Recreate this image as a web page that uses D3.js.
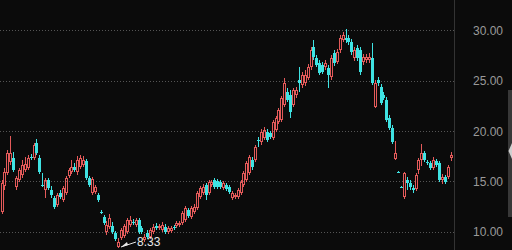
<!DOCTYPE html>
<html>
<head>
<meta charset="utf-8">
<script src="https://cdn.jsdelivr.net/npm/d3@7"></script>
<style>
  html, body { margin: 0; padding: 0; background: #0b0b0b; }
  svg { display: block; }
</style>
</head>
<body>
<div id="chart"></div>
<script>
// Daily candles (open / high / low / close)
var opens = [
  11.94, 14.52, 15.81, 16.91, 17.30, 14.42, 15.12, 15.61, 16.11, 16.31,
  17.40, 17.30, 18.80, 17.30, 14.62, 14.12, 15.12, 14.12, 13.33, 12.63,
  13.83, 13.13, 13.83, 15.52, 15.91, 16.41, 15.91, 16.41, 16.61, 17.01,
  15.32, 13.83, 13.92, 13.63, 11.94, 11.44, 9.95, 10.45, 10.55, 9.85,
  8.46, 9.35, 9.55, 9.95, 10.64, 10.94, 10.64, 11.14, 10.35, 9.15,
  9.85, 9.45, 9.95, 10.55, 10.35, 10.15, 10.45, 9.95, 10.05, 10.40,
  10.55, 10.64, 10.84, 11.14, 12.14, 11.44, 11.94, 12.33, 13.43, 13.83,
  14.62, 13.83, 14.62, 15.12, 15.02, 14.92, 14.32, 14.62, 14.42, 13.33,
  13.43, 13.43, 13.83, 14.62, 15.12, 15.81, 17.11, 17.11, 19.09, 18.89,
  19.29, 19.89, 19.79, 19.29, 20.09, 20.88, 21.08, 22.57, 23.86, 23.57,
  22.57, 23.57, 25.06, 24.56, 24.76, 25.26, 26.35, 28.34, 27.24, 26.75,
  26.55, 26.35, 26.25, 25.36, 27.74, 26.85, 28.04, 29.03, 29.23, 29.23,
  28.84, 27.24, 28.24, 28.04, 26.85, 27.05, 27.05, 27.24, 22.37, 25.06,
  24.36, 23.57, 23.07, 21.28, 20.29, 17.21, 15.95, 14.45, 13.43, 15.12,
  14.82, 14.32, 14.22, 16.11, 17.11, 17.80, 16.91, 16.81, 16.31, 17.01,
  16.81, 15.12, 15.42, 15.42, 17.30
];
var highs = [
  15.12, 16.31, 18.10, 19.49, 17.90, 15.52, 16.31, 17.11, 17.40, 17.60,
  17.70, 18.80, 19.19, 17.60, 15.81, 15.32, 15.32, 14.52, 13.53, 13.83,
  14.12, 14.52, 15.52, 16.31, 17.11, 16.81, 17.50, 17.60, 17.50, 17.21,
  15.52, 15.42, 14.62, 13.83, 12.14, 11.64, 11.04, 11.74, 10.94, 10.05,
  9.35, 10.35, 10.74, 11.34, 11.54, 11.24, 11.34, 11.34, 10.55, 9.75,
  10.15, 10.35, 10.74, 10.84, 10.74, 10.94, 10.74, 10.55, 10.55, 10.64,
  11.04, 11.04, 12.04, 12.53, 12.33, 12.53, 12.73, 14.02, 14.52, 14.72,
  14.82, 15.12, 15.12, 15.32, 15.22, 15.12, 15.02, 14.82, 14.62, 14.02,
  13.83, 14.32, 15.12, 16.01, 17.01, 17.60, 17.40, 18.60, 19.39, 20.19,
  20.39, 20.19, 19.99, 21.08, 21.48, 22.28, 23.47, 25.26, 24.26, 24.06,
  24.26, 24.36, 26.35, 25.85, 26.05, 26.65, 28.34, 29.03, 27.54, 27.05,
  26.85, 27.05, 26.55, 27.54, 28.04, 28.14, 29.53, 29.83, 30.13, 29.53,
  29.13, 28.34, 28.54, 28.34, 27.64, 27.64, 27.74, 28.74, 25.06, 25.36,
  24.66, 23.86, 23.37, 21.58, 20.58, 18.99, 16.01, 14.52, 15.91, 15.42,
  15.12, 14.62, 15.81, 17.30, 18.70, 18.00, 17.11, 17.01, 17.40, 17.21,
  17.01, 15.71, 15.61, 16.61, 17.90
];
var lows = [
  11.74, 14.12, 15.61, 16.61, 15.91, 14.12, 14.92, 15.32, 15.91, 16.11,
  17.11, 17.11, 17.60, 15.71, 14.42, 13.33, 14.12, 13.33, 12.23, 12.43,
  13.23, 12.93, 13.63, 15.32, 15.71, 15.91, 15.61, 16.21, 16.41, 15.12,
  14.42, 13.63, 13.73, 12.93, 11.74, 10.64, 9.65, 10.25, 9.75, 9.06,
  8.33, 9.15, 9.35, 9.75, 10.45, 10.64, 10.45, 9.75, 9.75, 8.96,
  9.25, 9.25, 9.75, 10.15, 10.15, 9.95, 9.75, 9.75, 9.85, 10.15,
  10.35, 10.45, 10.64, 10.94, 11.34, 11.24, 11.74, 12.14, 13.23, 13.63,
  13.13, 13.63, 14.42, 14.22, 14.22, 14.22, 14.12, 14.02, 13.73, 13.13,
  13.23, 13.23, 13.63, 14.42, 14.92, 15.61, 16.11, 16.91, 18.40, 18.60,
  19.09, 18.89, 19.19, 19.09, 19.89, 20.68, 20.88, 22.37, 22.87, 21.28,
  22.37, 23.27, 23.86, 24.26, 24.46, 25.06, 26.05, 27.05, 26.35, 25.56,
  25.65, 26.05, 24.26, 25.06, 26.45, 26.65, 27.74, 28.84, 28.74, 28.54,
  27.54, 26.95, 26.95, 25.56, 26.55, 26.75, 26.75, 24.56, 22.28, 24.46,
  22.57, 23.07, 20.88, 20.09, 18.70, 17.11, 15.81, 14.32, 13.23, 14.12,
  14.12, 13.83, 14.02, 15.71, 16.51, 16.91, 16.61, 16.11, 16.11, 16.41,
  14.92, 14.72, 14.72, 15.22, 17.01
];
var closes = [
  14.82, 15.91, 17.80, 17.80, 16.11, 15.32, 16.11, 16.61, 16.71, 17.30,
  17.30, 18.60, 17.80, 15.91, 14.52, 15.12, 14.32, 13.63, 12.43, 13.63,
  13.43, 14.32, 15.32, 16.11, 16.41, 16.11, 17.11, 17.30, 17.11, 15.32,
  14.62, 15.22, 14.42, 13.13, 11.84, 10.84, 10.64, 11.34, 9.95, 9.25,
  8.96, 10.15, 10.55, 11.14, 11.14, 10.84, 11.14, 9.95, 9.95, 9.45,
  9.45, 10.15, 10.45, 10.35, 10.55, 10.64, 9.95, 10.35, 10.35, 10.30,
  10.84, 10.84, 11.84, 12.33, 11.54, 12.33, 12.43, 13.83, 14.32, 14.42,
  13.63, 14.92, 14.92, 14.42, 14.42, 14.42, 14.82, 14.22, 13.92, 13.83,
  13.63, 14.12, 14.92, 15.81, 16.81, 17.40, 16.41, 18.40, 18.99, 19.89,
  20.09, 19.09, 19.39, 20.88, 21.28, 22.08, 23.27, 24.76, 23.07, 21.88,
  24.06, 24.06, 24.76, 25.56, 25.56, 26.35, 28.04, 27.34, 26.55, 25.75,
  25.85, 26.75, 25.56, 27.24, 26.75, 27.84, 29.23, 29.53, 29.03, 28.84,
  27.84, 28.04, 27.24, 25.85, 27.34, 27.34, 27.34, 24.76, 24.76, 24.76,
  22.77, 23.27, 21.08, 20.29, 18.89, 17.80, 15.88, 14.40, 15.81, 14.82,
  14.42, 14.12, 15.61, 17.11, 17.80, 17.11, 16.81, 16.31, 17.11, 16.61,
  15.12, 15.42, 14.92, 16.41, 17.60
];
var priceTicks = [10, 15, 20, 25, 30];

var W = 512, H = 250;
var plotRight = 454;
var upColor = "#e45a5a", downColor = "#3fe3e3";

var svg = d3.select("#chart").append("svg")
  .attr("width", W).attr("height", H);

svg.append("rect").attr("width", W).attr("height", H).attr("fill", "#0b0b0b");

var n = closes.length;
var x = d3.scaleLinear().domain([0, n - 1]).range([1.5, 450.5]);
var y = d3.scaleLinear().domain([10, 30]).range([231.5, 30.3]);

// dotted gridlines
svg.selectAll(".grid")
  .data(priceTicks)
  .enter().append("line")
    .attr("x1", 0).attr("x2", plotRight)
    .attr("y1", function(d) { return Math.round(y(d)) + 0.5; })
    .attr("y2", function(d) { return Math.round(y(d)) + 0.5; })
    .attr("stroke", "#555")
    .attr("stroke-dasharray", "1,2");

// separator for the price axis
svg.append("line")
  .attr("x1", plotRight + 0.5).attr("x2", plotRight + 0.5)
  .attr("y1", 0).attr("y2", H)
  .attr("stroke", "#333");

// price axis on the right
var axis = svg.append("g")
  .attr("transform", "translate(503,0)")
  .call(d3.axisLeft(y).tickValues(priceTicks).tickFormat(d3.format(".2f")).tickSize(0));
axis.select(".domain").remove();
axis.selectAll("text")
  .attr("x", 0).attr("dy", "0.36em")
  .attr("fill", "#9a9a9a")
  .style("font-family", "'Liberation Sans', Arial, sans-serif")
  .style("font-size", "12px");

// candles
var idx = d3.range(n);
var g = svg.append("g");
idx.forEach(function(i) {
  var cx = Math.round(x(i));
  var up = closes[i] >= opens[i];
  var top = Math.round(y(Math.max(opens[i], closes[i])));
  var bot = Math.round(y(Math.min(opens[i], closes[i])));
  var hi = Math.round(y(highs[i])), lo = Math.round(y(lows[i]));
  var col = up ? upColor : downColor;
  if (bot - top < 1) bot = top + 1;

  // wick above and below the body
  g.append("line")
    .attr("x1", cx + 0.5).attr("x2", cx + 0.5)
    .attr("y1", hi).attr("y2", top)
    .attr("stroke", col);
  g.append("line")
    .attr("x1", cx + 0.5).attr("x2", cx + 0.5)
    .attr("y1", bot).attr("y2", lo)
    .attr("stroke", col);

  if (up && bot - top > 2) {
    // hollow red body
    g.append("rect")
      .attr("x", cx - 0.5).attr("y", top + 0.5)
      .attr("width", 2).attr("height", bot - top - 1)
      .attr("fill", "none").attr("stroke", col);
  } else {
    g.append("rect")
      .attr("x", cx - 1).attr("y", top)
      .attr("width", 3).attr("height", bot - top)
      .attr("fill", col);
  }
});

// lowest price marker
var minIdx = d3.minIndex(lows);
var tipX = Math.round(x(minIdx)) + 3, tipY = Math.round(y(lows[minIdx])) - 1;
svg.append("line")
  .attr("x1", tipX).attr("y1", tipY)
  .attr("x2", tipX + 15).attr("y2", tipY - 5)
  .attr("stroke", "#e8e8e8");
svg.append("path")
  .attr("d", "M" + tipX + "," + tipY + "l6,-5l1,3z")
  .attr("fill", "#e8e8e8");
svg.append("text")
  .attr("x", tipX + 16).attr("y", tipY - 1)
  .attr("fill", "#e8e8e8")
  .style("font-family", "'Liberation Sans', Arial, sans-serif")
  .style("font-size", "12px")
  .text(d3.format(".2f")(lows[minIdx]));

// scroll strip at the right edge
svg.append("rect")
  .attr("x", 508).attr("y", 90).attr("width", 4).attr("height", 127)
  .attr("fill", "#383838");
svg.append("path")
  .attr("d", "M508.5,151L512,143L512,159Z")
  .attr("fill", "#d0d0d0");
</script>
</body>
</html>
